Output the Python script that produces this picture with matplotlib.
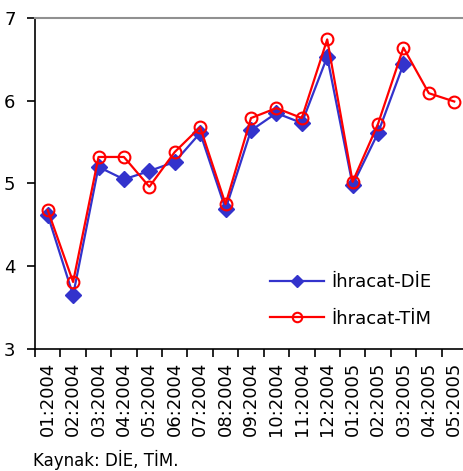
import matplotlib.pyplot as plt
import numpy as np

# monthly export series, 01:2004 - 05:2005
months = ["01:2004", "02:2004", "03:2004", "04:2004", "05:2004", "06:2004",
          "07:2004", "08:2004", "09:2004", "10:2004", "11:2004", "12:2004",
          "01:2005", "02:2005", "03:2005", "04:2005", "05:2005"]
ihracat_die = [4.62, 3.65, 5.20, 5.05, 5.15, 5.26, 5.61, 4.69, 5.64, 5.85,
               5.73, 6.53, 4.98, 5.61, 6.44, np.nan, np.nan]
ihracat_tim = [4.68, 3.81, 5.32, 5.32, 4.96, 5.38, 5.68, 4.75, 5.79, 5.91,
               5.79, 6.74, 5.02, 5.72, 6.64, 6.09, 5.99]

plt.rcParams['font.family'] = ['DejaVu Sans']

fig = plt.figure(figsize=(4.64, 4.71), dpi=100)
ax = fig.add_axes([0.0754, 0.259, 0.931, 0.703])

x = np.arange(len(months)) + 0.5
ax.plot(x, ihracat_die, color='#3333cc', lw=1.6, marker='D', ms=8,
        label='İhracat-DİE')
ax.plot(x, ihracat_tim, color='#ff0000', lw=1.6, marker='o', ms=8.5,
        mfc='none', mec='#ff0000', mew=1.5, label='İhracat-TİM')

ax.set_xlim(0, len(months))
ax.set_ylim(3, 7)
ax.set_yticks([3, 4, 5, 6, 7])
ax.set_xticks(np.arange(len(months) + 1))
ax.set_xticklabels([])
ax.set_xticks(x, minor=True)
ax.set_xticklabels(months, minor=True, rotation=90, fontsize=13)
ax.tick_params(axis='x', which='minor', length=0, pad=9)
ax.tick_params(axis='x', which='major', length=6, width=1.2)
ax.tick_params(axis='y', length=6, width=1.2, labelsize=13, pad=8)

ax.spines['right'].set_visible(False)
ax.spines['top'].set_color('#909090')
ax.spines['top'].set_linewidth(1.5)
ax.spines['left'].set_linewidth(1.2)
ax.spines['bottom'].set_linewidth(1.2)

ax.legend(loc='lower right', bbox_to_anchor=(0.955, 0.015), frameon=False,
          fontsize=13, handlelength=3.0, handletextpad=0.4,
          labelspacing=1.05, markerscale=0.8)

fig.text(0.071, 0.003, 'Kaynak: DİE, TİM.', fontsize=12, va='bottom')

fig.savefig('out.png', dpi=100)
